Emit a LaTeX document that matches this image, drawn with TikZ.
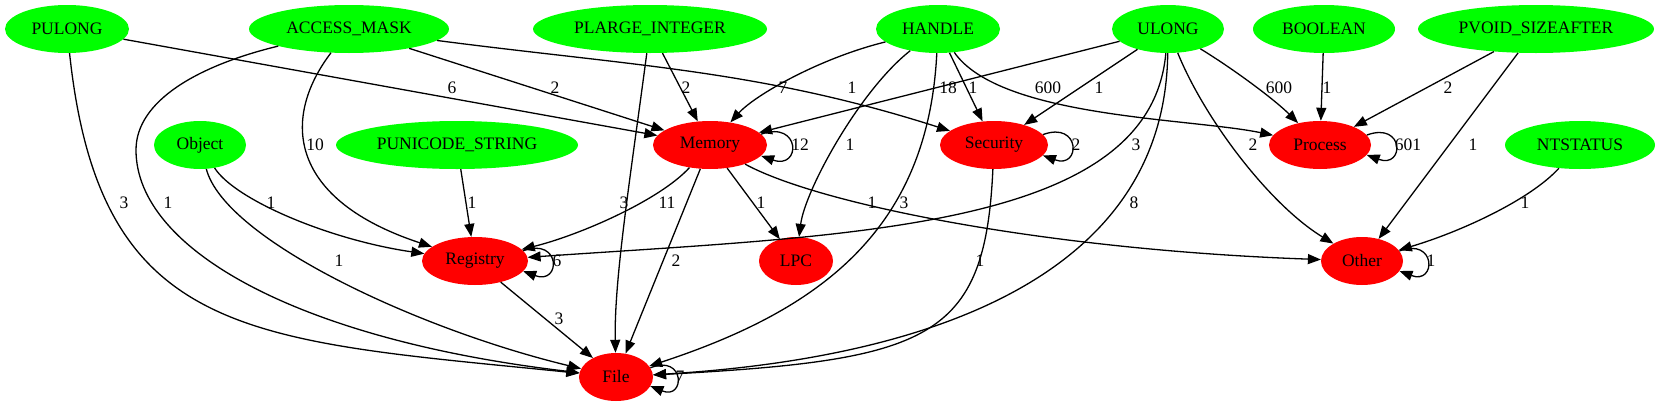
\documentclass[tikz,border=0pt]{standalone}
\usepackage{fontspec}
\setmainfont{Liberation Serif}
\usetikzlibrary{shapes.geometric, arrows.meta}

\begin{document}
\begin{tikzpicture}[x=1pt, y=-1pt, every node/.style={font=\fontsize{17.5}{20}\selectfont, inner sep=0pt},
  typenode/.style={ellipse, fill=green, minimum height=48pt},
  callnode/.style={ellipse, fill=red, minimum height=48pt},
  link/.style={-{Triangle[length=13pt, width=10pt]}, line width=1.3pt}]

\useasboundingbox (0,0) rectangle (1659,407);

  % Nodes
  \node (pulong) [typenode, minimum width=124pt] at (67,29) {PULONG};
  \node (accessmask) [typenode, minimum width=200pt] at (349,29) {ACCESS\_MASK};
  \node (plarge) [typenode, minimum width=234pt] at (650,29) {PLARGE\_INTEGER};
  \node (handle) [typenode, minimum width=124pt] at (938,29) {HANDLE};
  \node (ulong) [typenode, minimum width=112pt] at (1168,29) {ULONG};
  \node (boolean) [typenode, minimum width=142pt] at (1324,29) {BOOLEAN};
  \node (pvoid) [typenode, minimum width=236pt] at (1536,29) {PVOID\_SIZEAFTER};
  \node (object) [typenode, minimum width=92pt] at (200,145) {Object};
  \node (punicode) [typenode, minimum width=242pt] at (457,145) {PUNICODE\_STRING};
  \node (memory) [callnode, minimum width=114pt] at (710,145) {Memory};
  \node (security) [callnode, minimum width=108pt] at (994,145) {Security};
  \node (process) [callnode, minimum width=102pt] at (1320,145) {Process};
  \node (ntstatus) [typenode, minimum width=150pt] at (1580,145) {NTSTATUS};
  \node (registry) [callnode, minimum width=106pt] at (475,261) {Registry};
  \node (lpc) [callnode, minimum width=74pt] at (796,261) {LPC};
  \node (other) [callnode, minimum width=82pt] at (1362,261) {Other};
  \node (file) [callnode, minimum width=74pt] at (616,377) {File};

  % Arrows
  \draw[link] (pulong) -- (memory) node at (452,88) {6};
  \draw[link] (pulong) .. controls (100,340) and (250,340) .. (file) node at (124,203) {3};
  \draw[link] (accessmask) -- (memory) node at (555,88) {2};
  \draw[link] (accessmask) .. controls (633,66) and (760,70) .. (security) node at (852,88) {1};
  \draw[link] (accessmask) .. controls (280,120) and (290,200) .. (registry) node at (315,145) {10};
  \draw[link] (accessmask) .. controls (200,65) and (136,100) .. (136,150) .. controls (136,250) and (300,340) .. (file) node at (168,203) {1};
  \draw[link] (plarge) -- (memory) node at (686,88) {2};
  \draw[link] (plarge) .. controls (630,180) and (614,280) .. (file) node at (624,203) {3};
  \draw[link] (handle) .. controls (820,58) and (755,95) .. (memory) node at (783,88) {7};
  \draw[link] (handle) -- (security) node at (973,88) {1};
  \draw[link] (handle) .. controls (1000,118) and (1190,118) .. (process) node at (1048,88) {600};
  \draw[link] (handle) .. controls (860,90) and (805,190) .. (lpc) node at (850,145) {1};
  \draw[link] (handle) .. controls (928,230) and (820,310) .. (file) node at (904,203) {3};
  \draw[link] (ulong) -- (memory) node at (948,88) {18};
  \draw[link] (ulong) -- (security) node at (1099,88) {1};
  \draw[link] (ulong) .. controls (1235,70) and (1275,100) .. (process) node at (1279,88) {600};
  \draw[link] (ulong) .. controls (1150,230) and (850,235) .. (registry) node at (1136,145) {3};
  \draw[link] (ulong) .. controls (1205,120) and (1270,205) .. (other) node at (1253,145) {2};
  \draw[link] (ulong) .. controls (1165,290) and (900,360) .. (file) node at (1134,203) {8};
  \draw[link] (boolean) -- (process) node at (1327,88) {1};
  \draw[link] (pvoid) -- (process) node at (1448,88) {2};
  \draw[link] (pvoid) -- (other) node at (1473,145) {1};
  \draw[link] (object) .. controls (235,200) and (330,240) .. (registry) node at (271,203) {1};
  \draw[link] (object) .. controls (225,240) and (420,330) .. (file) node at (339,261) {1};
  \draw[link] (punicode) -- (registry) node at (472,203) {1};
  \draw[link] (memory.12) .. controls +(40,-14) and +(40,14) .. (memory.-12) node at (800,145) {12};
  \draw[link] (memory) .. controls (660,200) and (580,235) .. (registry) node at (667,203) {11};
  \draw[link] (memory) -- (lpc) node at (761,203) {1};
  \draw[link] (memory) .. controls (820,205) and (1050,250) .. (other) node at (872,203) {1};
  \draw[link] (memory) -- (file) node at (676,261) {2};
  \draw[link] (security.12) .. controls +(38,-14) and +(38,14) .. (security.-12) node at (1076,145) {2};
  \draw[link] (security) .. controls (985,340) and (930,360) .. (file) node at (980,261) {1};
  \draw[link] (process.12) .. controls +(38,-14) and +(38,14) .. (process.-12) node at (1408,145) {601};
  \draw[link] (ntstatus) .. controls (1530,200) and (1460,232) .. (other) node at (1525,203) {1};
  \draw[link] (registry.12) .. controls +(38,-14) and +(38,14) .. (registry.-12) node at (557,261) {6};
  \draw[link] (registry) -- (file) node at (559,319) {3};
  \draw[link] (other.15) .. controls +(37,-14) and +(37,14) .. (other.-15) node at (1431,261) {1};
  \draw[link] (file.15) .. controls +(35,-14) and +(35,14) .. (file.-15) node at (680,377) {7};

\end{tikzpicture}
\end{document}
